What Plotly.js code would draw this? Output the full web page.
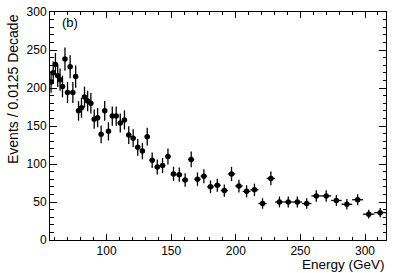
<!DOCTYPE html>
<html>
<head>
<meta charset="utf-8">
<script src="https://cdn.plot.ly/plotly-3.0.1.min.js"></script>
<style>html,body{margin:0;padding:0;background:#fff;}#chart{width:399px;height:273px;}</style>
</head>
<body>
<div id="chart"></div>
<script>
// Bin edges (GeV), 0.0125 decade log bins
const binEdges = [56.23, 57.88, 59.57, 61.31, 63.10, 64.94, 66.83, 68.79, 70.79, 72.86,
  74.99, 77.18, 79.43, 81.75, 84.14, 86.60, 89.13, 91.73, 94.41, 97.16,
  100.00, 102.92, 105.93, 109.02, 112.20, 115.48, 118.85, 122.32, 125.89, 129.57,
  133.35, 137.24, 141.25, 145.38, 149.62, 153.99, 158.49, 163.12, 167.88, 172.79,
  177.83, 183.02, 188.36, 193.87, 199.53, 205.35, 211.35, 217.52, 223.87, 230.41,
  237.14, 244.06, 251.19, 258.52, 266.07, 273.84, 281.84, 290.07, 298.54, 307.26, 316.23];

// Events per bin
const events = [208, 220, 231, 216, 211, 202, 238, 194, 228, 194,
  215, 170, 174, 188, 183, 180, 159, 161, 139, 170,
  143, 163, 163, 154, 158, 138, 134, 122, 117, 136,
  105, 96, 98, 110, 87, 86, 79, 106, 80, 84,
  70, 72, 65, 87, 71, 64, 66, 48, 81, 50,
  50, 50, 48, 58, 58, 52, 47, 53, 34, 36];

// Statistical errors per bin
const errors = [14.4, 14.8, 15.2, 14.7, 14.5, 14.2, 15.4, 13.9, 15.1, 13.9,
  14.7, 13.0, 13.2, 13.7, 13.5, 13.4, 12.6, 12.7, 11.8, 13.0,
  12.0, 12.8, 12.8, 12.4, 12.6, 11.7, 11.6, 11.0, 10.8, 11.7,
  10.2, 9.8, 9.9, 10.5, 9.3, 9.3, 8.9, 10.3, 8.9, 9.2,
  8.4, 8.5, 8.1, 9.3, 8.4, 8.0, 8.1, 6.9, 9.0, 7.1,
  7.1, 7.1, 6.9, 7.6, 7.6, 7.2, 6.9, 7.3, 5.8, 6.0];

const xTickVals = [100, 150, 200, 250, 300];
const yTickVals = [0, 50, 100, 150, 200, 250, 300];

const centers = [], halfWidths = [];
for (let i = 0; i < binEdges.length - 1; i++) {
  centers.push((binEdges[i] + binEdges[i + 1]) / 2);
  halfWidths.push((binEdges[i + 1] - binEdges[i]) / 2);
}

const FONT = '"Liberation Sans", Arial, Helvetica, sans-serif';

const trace = {
  x: centers, y: events, type: 'scatter', mode: 'markers',
  marker: {color: '#000', size: 5.5, symbol: 'circle'},
  error_y: {type: 'data', array: errors, visible: true, color: '#000', thickness: 1.3, width: 0},
  error_x: {type: 'data', array: halfWidths, visible: true, color: '#000', thickness: 1.3, width: 0},
  hoverinfo: 'skip'
};

const axisCommon = {
  showline: true, linecolor: '#000', linewidth: 1, mirror: 'allticks',
  ticks: 'inside', tickcolor: '#000', tickwidth: 1,
  showgrid: false, zeroline: false,
  tickfont: {family: FONT, size: 12, color: '#000'}
};

const layout = {
  width: 399, height: 273,
  margin: {l: 50, r: 13, t: 12, b: 33, pad: 0},
  paper_bgcolor: '#fff', plot_bgcolor: '#fff',
  showlegend: false,
  xaxis: Object.assign({}, axisCommon, {
    range: [binEdges[0], binEdges[binEdges.length - 1]],
    tickmode: 'array', tickvals: xTickVals, ticktext: xTickVals.map(String),
    ticklen: 6,
    minor: {dtick: 10, tick0: 0, ticks: 'inside', ticklen: 3, tickcolor: '#000', showgrid: false}
  }),
  yaxis: Object.assign({}, axisCommon, {
    range: [0, 300],
    tickmode: 'array', tickvals: yTickVals, ticktext: yTickVals.map(String),
    ticklen: 7,
    minor: {dtick: 10, tick0: 0, ticks: 'inside', ticklen: 3.5, tickcolor: '#000', showgrid: false}
  }),
  annotations: [
    {text: 'Energy (GeV)', xref: 'paper', yref: 'paper', x: 1, y: 0,
     xanchor: 'right', yanchor: 'top', yshift: -16, borderpad: 0, showarrow: false,
     font: {family: FONT, size: 13.5, color: '#000'}},
    {text: 'Events / 0.0125 Decade', xref: 'paper', yref: 'paper', x: 0, y: 1,
     xanchor: 'center', yanchor: 'top', xshift: -37, textangle: -90, showarrow: false,
     font: {family: FONT, size: 14, color: '#000'}},
    {text: '(b)', xref: 'paper', yref: 'paper', x: 0, y: 1,
     xanchor: 'left', yanchor: 'middle', xshift: 10, yshift: -10, showarrow: false,
     font: {family: FONT, size: 13, color: '#000'}}
  ]
};

Plotly.newPlot('chart', [trace], layout, {staticPlot: true, displayModeBar: false});
</script>
</body>
</html>
